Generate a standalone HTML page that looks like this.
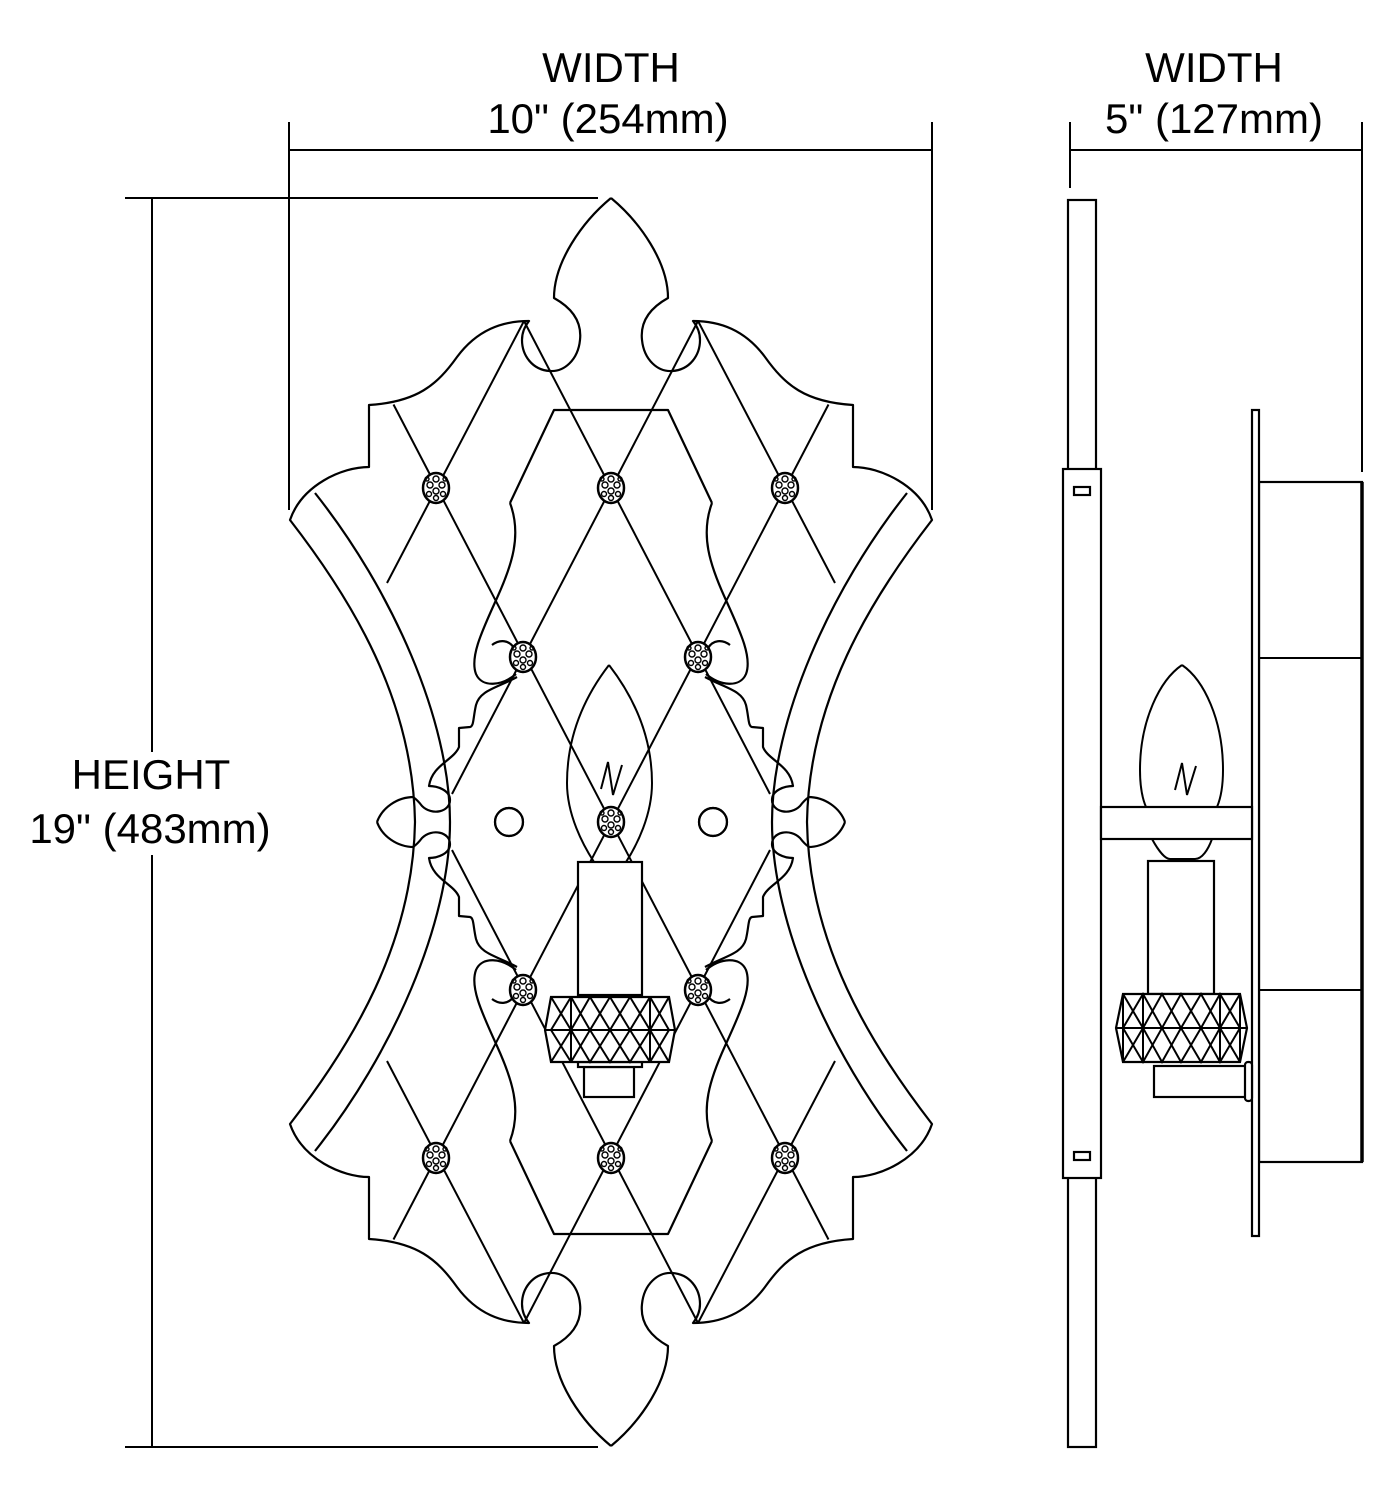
<!DOCTYPE html>
<html><head><meta charset="utf-8"><style>
html,body{margin:0;padding:0;background:#fff}
svg{display:block}
text{font-family:"Liberation Sans",Arial,sans-serif;font-size:42px;fill:#000}
</style></head><body>
<svg width="1393" height="1500" viewBox="0 0 1393 1500" xmlns="http://www.w3.org/2000/svg">
<defs>
<g id="cr">
<ellipse cx="0" cy="0" rx="13" ry="15" fill="#fff" stroke="#000" stroke-width="2.5"/>
<g fill="none" stroke="#000" stroke-width="1.4">
<circle cx="0" cy="-9" r="3"/><circle cx="-6" cy="-3" r="3"/><circle cx="6" cy="-3" r="3"/>
<circle cx="0" cy="3" r="3"/><circle cx="-7" cy="6" r="2.5"/><circle cx="7" cy="6" r="2.5"/>
<circle cx="0" cy="10" r="2.5"/><circle cx="-9" cy="-9" r="2"/><circle cx="9" cy="-9" r="2"/>
</g>
</g>
<g id="q" fill="none" stroke="#000" stroke-width="2.2" stroke-linejoin="round">
<path d="M611,198 C640,222 668,262 668,298 C650,308 640,322 642,340 C644,360 658,372 672,371 C690,370 700,355 700,340 C700,332 697,326 693,321 C720,321 745,330 765,357 C785,385 805,402 853,405 L853,467 C880,467 920,485 932,520 C870,600 809,700 807,822"/>
<path d="M808,797 C825,797 840,808 845,822"/>
<path d="M907,493 C830,590 772,720 772,822"/>
<path d="M705,677 C725,688 742,690 746,705 C749,718 748,726 752,727 L763,728 L763,747 C768,760 790,765 793,786 C785,786 772,790 772,800 C772,812 790,816 800,806 C803,802 806,799 809,797"/>
<path d="M712,503 C700,535 710,565 725,598 C742,635 752,658 746,674 C740,688 720,686 706,674"/>
<path d="M708,648 C713,640 722,639 730,645"/>
<path d="M611,410 L668,410 L712,503"/>
<circle cx="713" cy="822" r="14"/>
</g>
</defs>

<g stroke="#000" stroke-width="2" fill="none">
<line x1="289" y1="150" x2="932" y2="150"/>
<line x1="289" y1="122" x2="289" y2="510"/>
<line x1="932" y1="122" x2="932" y2="510"/>
<line x1="1070" y1="150" x2="1362" y2="150"/>
<line x1="1070" y1="122" x2="1070" y2="188"/>
<line x1="1362" y1="122" x2="1362" y2="472"/>
<line x1="152" y1="198" x2="152" y2="752"/>
<line x1="152" y1="855" x2="152" y2="1447"/>
<line x1="125" y1="198" x2="598" y2="198"/>
<line x1="125" y1="1447" x2="598" y2="1447"/>
</g>
<text x="611" y="82" text-anchor="middle">WIDTH</text>
<text x="608" y="133" text-anchor="middle">10" (254mm)</text>
<text x="1214" y="82" text-anchor="middle">WIDTH</text>
<text x="1214" y="133" text-anchor="middle">5" (127mm)</text>
<text x="151" y="789" text-anchor="middle">HEIGHT</text>
<text x="150" y="843" text-anchor="middle">19" (483mm)</text>

<use href="#q"/>
<use href="#q" transform="translate(1222,0) scale(-1,1)"/>
<use href="#q" transform="translate(0,1644) scale(1,-1)"/>
<use href="#q" transform="translate(1222,1644) scale(-1,-1)"/>

<g stroke="#000" stroke-width="2" fill="none">
<line x1="393.5" y1="404.5" x2="828.5" y2="1239.5"/>
<line x1="393.5" y1="1239.5" x2="828.5" y2="404.5"/>
<line x1="524" y1="321" x2="770" y2="794"/>
<line x1="698" y1="321" x2="452" y2="794"/>
<line x1="524" y1="1323" x2="770" y2="850"/>
<line x1="698" y1="1323" x2="452" y2="850"/>
<line x1="698" y1="321" x2="835" y2="583"/>
<line x1="524" y1="321" x2="387" y2="583"/>
<line x1="698" y1="1323" x2="835" y2="1061"/>
<line x1="524" y1="1323" x2="387" y2="1061"/>
</g>

<g stroke="#000" stroke-width="2" fill="none">
<path d="M609,665 C582,700 567,740 567,783 C567,815 583,845 594,862"/>
<path d="M609,665 C636,700 652,740 652,783 C652,815 637,845 626,862"/>
<path d="M601,789 L608,762 L613,795 L622,765"/>
</g>

<use href="#cr" x="436" y="488"/><use href="#cr" x="611" y="488"/><use href="#cr" x="785" y="488"/>
<use href="#cr" x="523" y="657"/><use href="#cr" x="698" y="657"/>
<use href="#cr" x="611" y="822"/>
<use href="#cr" x="523" y="990"/><use href="#cr" x="698" y="990"/>
<use href="#cr" x="436" y="1158"/><use href="#cr" x="611" y="1158"/><use href="#cr" x="785" y="1158"/>

<g stroke="#000" stroke-width="2.2" fill="#fff">
<rect x="578" y="862" width="64" height="133"/>
<rect x="584" y="1067" width="50" height="30"/>
<rect x="578" y="1062" width="64" height="5"/>
<polygon points="551,997 669,997 675,1030 669,1062 551,1062 545,1030"/>
</g>
<g stroke="#000" stroke-width="2" fill="none">
<line x1="545" y1="1030" x2="675" y2="1030"/>
<line x1="571" y1="997" x2="571" y2="1062"/>
<line x1="650" y1="997" x2="650" y2="1062"/>
<polyline points="571,1030 590,997 610,1030 630,997 650,1030"/>
<polyline points="571,997 590,1030 610,997 630,1030 650,997"/>
<polyline points="571,1030 590,1062 610,1030 630,1062 650,1030"/>
<polyline points="571,1062 590,1030 610,1062 630,1030 650,1062"/>
<line x1="551" y1="997" x2="571" y2="1030"/><line x1="571" y1="997" x2="551" y2="1030"/>
<line x1="551" y1="1062" x2="571" y2="1030"/><line x1="571" y1="1062" x2="551" y2="1030"/>
<line x1="669" y1="997" x2="650" y2="1030"/><line x1="650" y1="997" x2="669" y2="1030"/>
<line x1="669" y1="1062" x2="650" y2="1030"/><line x1="650" y1="1062" x2="669" y2="1030"/>
</g>

<g stroke="#000" stroke-width="2.2" fill="#fff">
<rect x="1068" y="200" width="28" height="1247"/>
<rect x="1063" y="469" width="38" height="709"/>
<rect x="1074" y="487" width="16" height="8"/>
<rect x="1074" y="1152" width="16" height="8"/>
<rect x="1259" y="482" width="103" height="680"/>
<rect x="1252" y="410" width="7" height="826"/>
<rect x="1101" y="807" width="151" height="32"/>
<rect x="1148" y="861" width="66" height="133"/>
<rect x="1154" y="1066" width="93" height="31"/>
<rect x="1245" y="1062" width="7" height="39" rx="3"/>
<polygon points="1123,994 1240,994 1247,1028 1240,1062 1123,1062 1116,1028"/>
</g>
<g stroke="#000" stroke-width="2" fill="none">
<line x1="1259" y1="658" x2="1362" y2="658"/>
<line x1="1259" y1="990" x2="1362" y2="990"/>
<line x1="1362" y1="482" x2="1362" y2="1162" stroke-width="3.5"/>
<path d="M1182,665 C1160,680 1140,720 1140,770 C1140,790 1143,800 1146,807"/>
<path d="M1182,665 C1204,680 1223,720 1223,770 C1223,790 1220,800 1217,807"/>
<path d="M1152,839 C1158,850 1165,859 1170,859 L1195,859 C1202,859 1208,850 1212,839"/>
<path d="M1175,790 L1182,763 L1187,795 L1196,766"/>
<line x1="1116" y1="1028" x2="1247" y2="1028"/>
<line x1="1123" y1="994" x2="1123" y2="1062"/><line x1="1143" y1="994" x2="1143" y2="1062"/>
<line x1="1220" y1="994" x2="1220" y2="1062"/><line x1="1240" y1="994" x2="1240" y2="1062"/>
<polyline points="1123,1028 1143,994 1162,1028 1181,994 1201,1028 1220,994 1240,1028"/>
<polyline points="1123,994 1143,1028 1162,994 1181,1028 1201,994 1220,1028 1240,994"/>
<polyline points="1123,1028 1143,1062 1162,1028 1181,1062 1201,1028 1220,1062 1240,1028"/>
<polyline points="1123,1062 1143,1028 1162,1062 1181,1028 1201,1062 1220,1028 1240,1062"/>
</g>
</svg>
</body></html>
